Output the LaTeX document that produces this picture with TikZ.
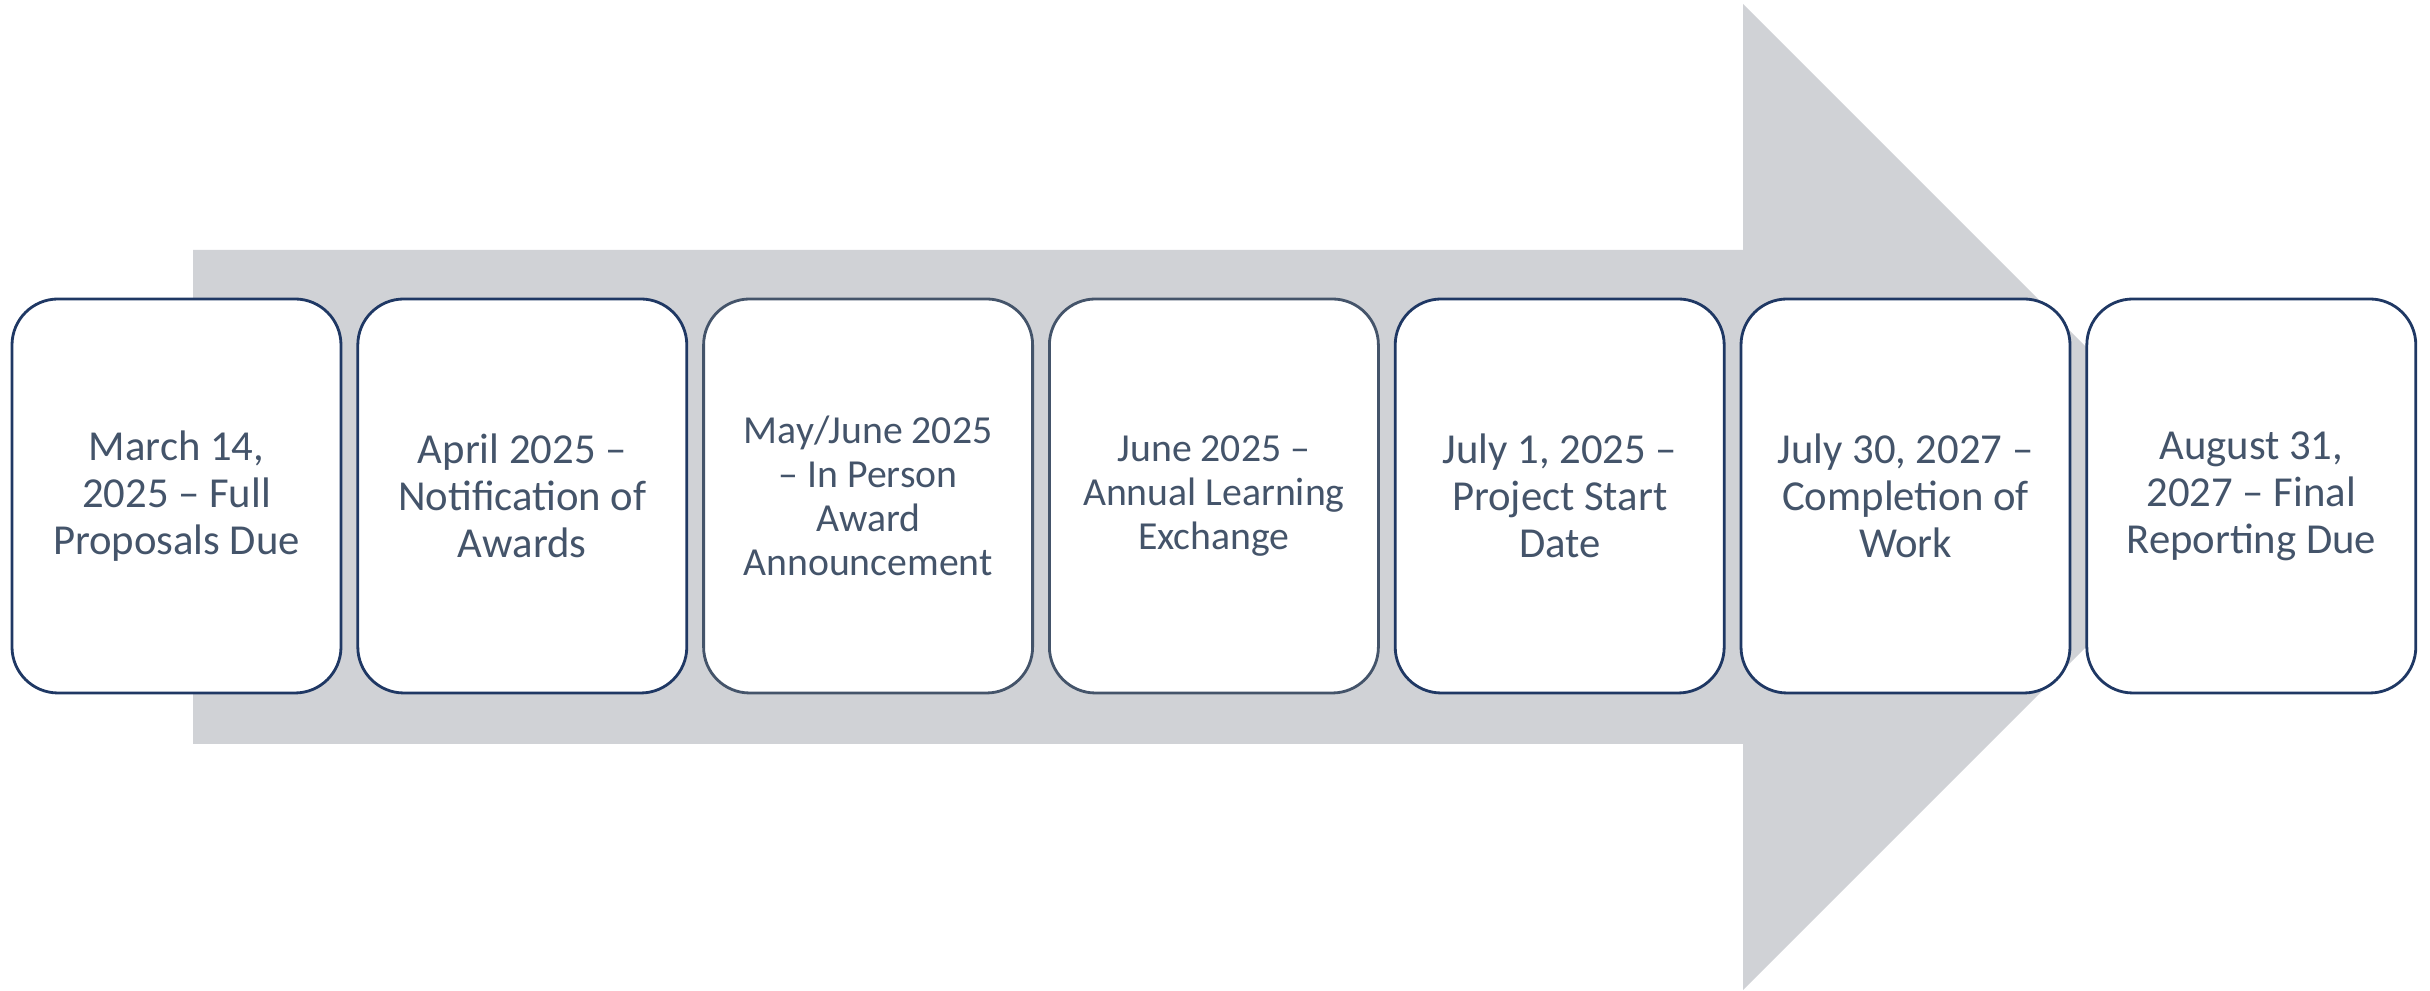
\documentclass[tikz,border=0pt]{standalone}
\usepackage{fontspec}
\setmainfont{Carlito}
\definecolor{arrowgray}{HTML}{D0D2D6}
\definecolor{boxnavy}{HTML}{1F3864}
\definecolor{textslate}{HTML}{44546A}

\begin{document}
\begin{tikzpicture}[
    stepbox/.style={draw=boxnavy, line width=0.8pt, fill=white, rounded corners=0.46cm,
        minimum width=3.29cm, minimum height=3.94cm, inner sep=0pt,
        text=textslate, align=center, font=\fontsize{12.15}{13.4}\selectfont},
    smallbox/.style={stepbox, draw=textslate, font=\fontsize{11.3}{12.5}\selectfont}
]

    % Fix the page size
    \useasboundingbox (0,0) rectangle (24.30,9.91);

    % Define the corners of the big arrow
    \coordinate (T1) at (1.93,2.47);
    \coordinate (T2) at (1.93,7.41);
    \coordinate (T3) at (17.43,7.41);
    \coordinate (T4) at (17.43,9.87);
    \coordinate (Tip) at (22.36,4.94);
    \coordinate (T5) at (17.43,0.01);
    \coordinate (T6) at (17.43,2.47);

    % Draw the arrow behind the boxes
    \fill[arrowgray] (T1) -- (T2) -- (T3) -- (T4) -- (Tip) -- (T5) -- (T6) -- cycle;

    % The milestone boxes
    \node[stepbox] (march) at (1.765,4.95) {March 14,\\2025 -- Full\\Proposals Due};
    \node[stepbox] (april) at (5.223,4.95) {April 2025 --\\Notification of\\Awards};
    \node[smallbox] (mayjune) at (8.681,4.95) {May/June 2025\\-- In Person\\Award\\Announcement};
    \node[smallbox] (june) at (12.139,4.95) {June 2025 --\\Annual Learning\\Exchange};
    \node[stepbox] (julystart) at (15.597,4.95) {July 1, 2025 --\\Project Start\\Date};
    \node[stepbox] (julyend) at (19.055,4.95) {July 30, 2027 --\\Completion of\\Work};
    \node[stepbox] (august) at (22.513,4.95) {August 31,\\2027 -- Final\\Reporting Due};

\end{tikzpicture}
\end{document}
